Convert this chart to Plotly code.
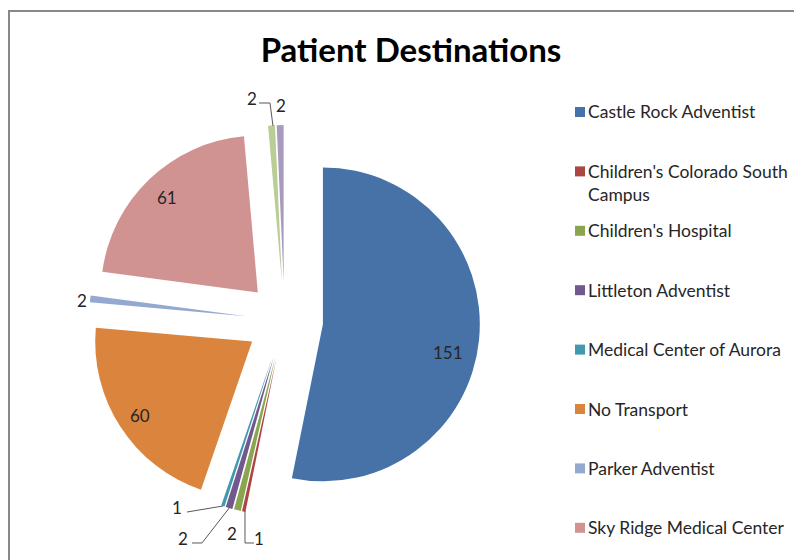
import plotly.graph_objects as go

# patient destination counts
destinations = ["Castle Rock Adventist", "Children's Colorado South Campus",
                "Children's Hospital", "Littleton Adventist",
                "Medical Center of Aurora", "No Transport", "Parker Adventist",
                "Sky Ridge Medical Center", "Porter Adventist",
                "Swedish Medical Center"]
patients = [151, 1, 2, 2, 1, 60, 2, 61, 2, 2]
legend_text = ["Castle Rock Adventist", "Children's Colorado South<br>Campus",
               "Children's Hospital", "Littleton Adventist",
               "Medical Center of Aurora", "No Transport", "Parker Adventist",
               "Sky Ridge Medical Center", "Porter Adventist",
               "Swedish Medical Center"]

colors = ['#4672A8', '#AA4643', '#89A54E', '#71588F', '#4198AF',
          '#DB843D', '#93A9CF', '#D19392', '#B9CD96', '#A99BBD']

W, H = 802, 560
OFF = 8  # page margin around the plot div


def px(x):
    return (x - OFF) / W


def py(y):
    return 1 - (y - OFF) / H


fig = go.Figure(go.Pie(labels=destinations, values=patients,
                       sort=False, direction='clockwise', rotation=0,
                       pull=0.246,
                       marker=dict(colors=colors, line=dict(width=0)),
                       textinfo='none',
                       domain=dict(x=[px(89), px(480)], y=[py(516), py(125)]),
                       showlegend=False, hoverinfo='label+value'))

shapes = []
annotations = []

# data labels placed like excel does: (text x, text y, leader line points)
data_labels = {
    0: (448, 352, []),
    1: (259, 538, [(245, 511), (245, 543), (254, 543)]),
    2: (232, 533, []),
    3: (183, 538, [(230, 507), (202, 543), (192, 543)]),
    4: (177, 507, [(223, 506), (187, 512)]),
    5: (140, 415, []),
    6: (82, 300, []),
    7: (167, 197, []),
    8: (252, 99, [(273, 126), (270, 103), (259, 103)]),
    9: (281, 105, []),
}
for i, (tx, ty, pts) in data_labels.items():
    annotations.append(dict(text=str(patients[i]), xref='paper', yref='paper',
                            x=px(tx), y=py(ty), xanchor='center', yanchor='middle',
                            showarrow=False,
                            font=dict(family='Lato', size=17, color='#262626')))
    if pts:
        path = 'M ' + ' L '.join('%f,%f' % (px(a), py(b)) for a, b in pts)
        shapes.append(dict(type='path', xref='paper', yref='paper', path=path,
                           line=dict(color='#595959', width=1)))

# legend drawn by hand so the spacing matches; rows past the bottom edge are cut off
for i, name in enumerate(legend_text):
    yc = 112 + 59.4 * i
    if yc > 550:
        break
    shapes.append(dict(type='rect', xref='paper', yref='paper',
                       x0=px(575), x1=px(585), y0=py(yc + 5), y1=py(yc - 5),
                       fillcolor=colors[i], line=dict(width=0)))
    annotations.append(dict(text=name, xref='paper', yref='paper',
                            x=px(586), y=py(yc - 12.5), xanchor='left', yanchor='top',
                            align='left', showarrow=False,
                            font=dict(family='Lato', size=17.5, color='#262626')))

# chart frame
shapes.append(dict(type='rect', xref='paper', yref='paper',
                   x0=px(9), x1=1.05, y0=-0.05, y1=py(11),
                   line=dict(color='#888888', width=2), fillcolor='rgba(0,0,0,0)'))

fig.update_layout(width=W, height=H,
                  margin=dict(l=0, r=0, t=0, b=0, autoexpand=False),
                  paper_bgcolor='white', plot_bgcolor='white',
                  title=dict(text='<b>Patient Destinations</b>', x=px(411), y=py(50),
                             xanchor='center', yanchor='middle',
                             font=dict(family='Lato', size=33, color='black')),
                  shapes=shapes, annotations=annotations)

fig.write_html("out.html")
